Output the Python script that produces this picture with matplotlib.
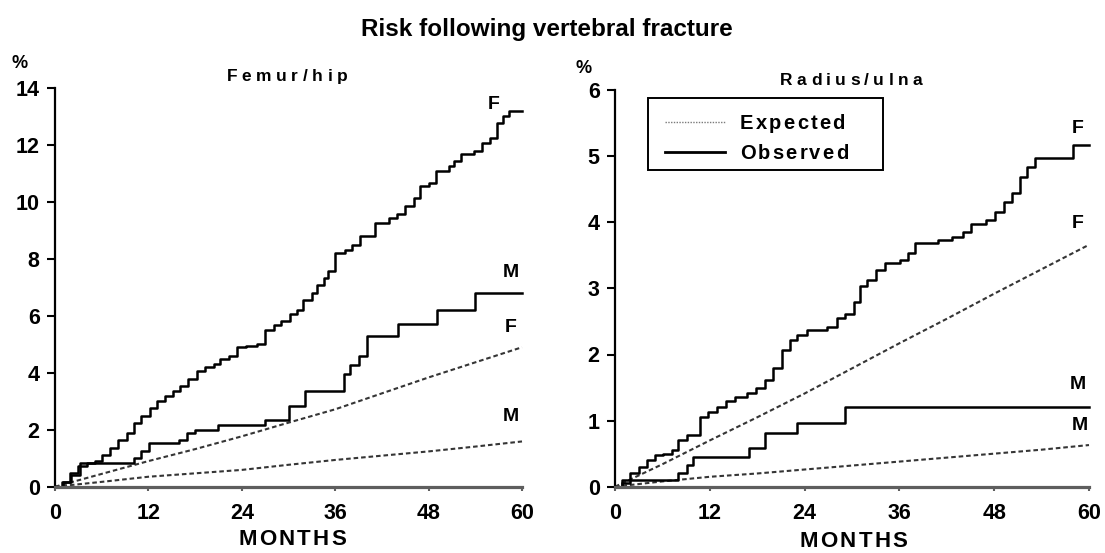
import matplotlib
matplotlib.use('Agg')
import matplotlib.pyplot as plt
from matplotlib.font_manager import FontProperties, findfont
from matplotlib.ft2font import FT2Font
from matplotlib.patches import Rectangle
from matplotlib.lines import Line2D

# ---------------- data ----------------
exp_months = [0, 6, 12, 18, 24, 30, 36, 42, 48, 54, 60]

hip_F_exp = [0, 0.45, 0.90, 1.32, 1.77, 2.25, 2.72, 3.28, 3.84, 4.37, 4.90]
hip_M_exp = [0, 0.17, 0.35, 0.47, 0.59, 0.77, 0.94, 1.09, 1.24, 1.41, 1.59]

hip_F_obs_m = [0, 0.9, 1.9, 3.0, 4.1, 5.1, 6.0, 7.1, 8.1, 9.2, 10.1, 11.1, 12.2, 13.1,
               14.1, 15.2, 16.1, 17.1, 18.2, 19.3, 20.4, 21.2, 22.3, 23.4, 24.6, 25.9,
               27.0, 28.1, 29.1, 30.2, 31.1, 31.9, 33.0, 33.6, 34.5, 35.1, 36.0, 37.3,
               38.1, 39.2, 41.1, 42.9, 43.9, 45.0, 46.1, 46.9, 48.0, 48.9, 50.6, 51.2,
               52.1, 53.8, 54.9, 55.9, 56.8, 57.6, 58.3, 60]
hip_F_obs_v = [0, 0.18, 0.47, 0.71, 0.83, 0.89, 1.12, 1.36, 1.65, 1.89, 2.24, 2.48, 2.77, 3.01,
               3.19, 3.36, 3.54, 3.78, 4.07, 4.19, 4.31, 4.49, 4.60, 4.90, 4.96, 5.02,
               5.49, 5.67, 5.84, 6.08, 6.20, 6.55, 6.79, 7.08, 7.32, 7.57, 8.21, 8.33,
               8.51, 8.80, 9.27, 9.45, 9.57, 9.86, 10.15, 10.56, 10.68, 11.09, 11.27, 11.44,
               11.68, 11.80, 12.09, 12.27, 12.79, 13.03, 13.20, 13.20]

hip_M_obs_m = [0, 1.0, 2.0, 3.2, 10.1, 11.0, 12.1, 15.9, 16.9, 18.0, 21.0, 27.0, 30.0,
               32.1, 37.1, 37.9, 39.0, 40.1, 44.1, 49.1, 54.0, 60]
hip_M_obs_v = [0, 0.15, 0.40, 0.83, 1.00, 1.24, 1.53, 1.65, 1.89, 2.00, 2.18, 2.36, 2.83,
               3.36, 3.95, 4.27, 4.60, 5.28, 5.70, 6.22, 6.79, 6.79]

rad_F_exp = [0, 0.34, 0.70, 1.05, 1.41, 1.79, 2.17, 2.54, 2.92, 3.29, 3.66]
rad_M_exp = [0, 0.08, 0.15, 0.20, 0.26, 0.32, 0.38, 0.44, 0.50, 0.56, 0.63]

rad_F_obs_m = [0, 0.84, 1.9, 3.0, 4.0, 5.1, 6.1, 7.2, 8.0, 9.1, 10.8, 11.8, 12.9, 14.1,
               15.2, 16.7, 17.9, 19.0, 20.0, 21.1, 22.2, 23.0, 24.3, 26.8, 28.1, 29.1,
               30.2, 31.0, 31.9, 33.1, 34.2, 36.1, 37.1, 38.0, 40.9, 42.6, 44.1, 45.1,
               47.0, 48.1, 49.2, 50.2, 51.3, 52.1, 53.2, 58.0, 60]
rad_F_obs_v = [0, 0.10, 0.20, 0.30, 0.40, 0.48, 0.50, 0.55, 0.71, 0.78, 1.06, 1.13, 1.21, 1.29,
               1.36, 1.41, 1.49, 1.61, 1.79, 2.07, 2.22, 2.29, 2.37, 2.42, 2.55, 2.62,
               2.80, 3.03, 3.13, 3.28, 3.38, 3.43, 3.53, 3.68, 3.73, 3.78, 3.86, 3.98,
               4.03, 4.16, 4.31, 4.44, 4.69, 4.84, 4.97, 5.17, 5.17]

rad_M_obs_m = [0, 0.9, 1.9, 8.0, 9.1, 9.9, 16.9, 19.0, 23.0, 29.1, 60]
rad_M_obs_v = [0, 0.05, 0.10, 0.20, 0.33, 0.45, 0.58, 0.81, 0.96, 1.21, 1.21]

x_ticks = [0, 12, 24, 36, 48, 60]
hip_y_ticks = [0, 2, 4, 6, 8, 10, 12, 14]
rad_y_ticks = [0, 1, 2, 3, 4, 5, 6]

title = "Risk following vertebral fracture"
panel_titles = ["Femur/hip", "Radius/ulna"]
legend_labels = ["Expected", "Observed"]
x_label = "MONTHS"

# ---------------- figure ----------------
W, H, DPI = 1105, 553, 100
FAM = 'Liberation Sans'
plt.rcParams['font.family'] = [FAM, 'DejaVu Sans']
plt.rcParams['font.weight'] = 'bold'

fig = plt.figure(figsize=(W / DPI, H / DPI), dpi=DPI)
fig.patch.set_facecolor('white')

font_path = findfont(FontProperties(family=FAM, weight='bold'))


def advances(s, size):
    f = FT2Font(font_path)
    f.set_size(size, DPI)
    out = []
    for ch in s:
        g = f.load_char(ord(ch))
        out.append(g.linearHoriAdvance / 65536.0)
    return out


def spaced_text(s, cx, base_y, size, track):
    adv = advances(s, size)
    total = sum(adv) + track * (len(s) - 1)
    x = cx - total / 2.0
    for ch, a in zip(s, adv):
        fig.text(x / W, 1 - base_y / H, ch, fontsize=size, fontweight='bold',
                 ha='left', va='baseline')
        x += a + track


def left_text(s, x0, base_y, size, track):
    adv = advances(s, size)
    x = x0
    for ch, a in zip(s, adv):
        fig.text(x / W, 1 - base_y / H, ch, fontsize=size, fontweight='bold',
                 ha='left', va='baseline')
        x += a + track


def px_axes(x0, x1, ytop, ybot):
    return fig.add_axes([x0 / W, 1 - ybot / H, (x1 - x0) / W, (ybot - ytop) / H])


ax1 = px_axes(55, 522, 88.3, 486.7)
ax2 = px_axes(615, 1089, 90.1, 486.7)

EXP_STYLE = dict(color='#353535', lw=1.5, ls=(0, (2.2, 1.4)), clip_on=False)
OBS_STYLE = dict(color='black', lw=1.8, clip_on=False)

for ax, yt, ymax in [(ax1, hip_y_ticks, 14), (ax2, rad_y_ticks, 6)]:
    ax.set_xlim(0, 60)
    ax.set_ylim(0, ymax)
    ax.set_xticks(x_ticks)
    ax.set_yticks(yt)
    ax.spines['top'].set_visible(False)
    ax.spines['right'].set_visible(False)
    ax.spines['left'].set_linewidth(1.6)
    ax.spines['bottom'].set_linewidth(2.3)
    ax.spines['bottom'].set_color('#5e5e5e')
    ax.tick_params(axis='y', direction='out', length=6, width=1.5, pad=5,
                   labelsize=15.5)
    ax.tick_params(axis='x', direction='out', length=3, width=1.5, pad=9,
                   labelsize=15.5, color='#5e5e5e')
    for lab in ax.get_xticklabels() + ax.get_yticklabels():
        lab.set_fontweight('bold')
    ax.set_facecolor('none')

# left panel
ax1.plot(exp_months, hip_F_exp, **EXP_STYLE)
ax1.plot(exp_months, hip_M_exp, **EXP_STYLE)
ax1.step(hip_F_obs_m, hip_F_obs_v, where='post', **OBS_STYLE)
ax1.step(hip_M_obs_m, hip_M_obs_v, where='post', **OBS_STYLE)
lab_kw = dict(fontsize=14, fontweight='bold', ha='center', va='center', clip_on=False)
ax1.text(56.3, 13.44, "F", **lab_kw)
ax1.text(58.5, 7.51, "M", **lab_kw)
ax1.text(58.5, 5.58, "F", **lab_kw)
ax1.text(58.5, 2.47, "M", **lab_kw)

# right panel
ax2.plot(exp_months, rad_F_exp, **EXP_STYLE)
ax2.plot(exp_months, rad_M_exp, **EXP_STYLE)
ax2.step(rad_F_obs_m, rad_F_obs_v, where='post', **OBS_STYLE)
ax2.step(rad_M_obs_m, rad_M_obs_v, where='post', **OBS_STYLE)
ax2.text(58.6, 5.42, "F", **lab_kw)
ax2.text(58.6, 3.98, "F", **lab_kw)
ax2.text(58.6, 1.54, "M", **lab_kw)
ax2.text(58.8, 0.93, "M", **lab_kw)

# legend (drawn in figure pixels)
fig.add_artist(Rectangle((648 / W, 1 - 170 / H), 235 / W, 72 / H, transform=fig.transFigure,
                         fill=False, edgecolor='black', lw=1.4))
fig.add_artist(Line2D([665 / W, 725 / W], [1 - 121.7 / H] * 2, transform=fig.transFigure,
                      color='#7a7a7a', lw=1.0, ls=(0, (1, 1))))
fig.add_artist(Line2D([665 / W, 725 / W], [1 - 151.7 / H] * 2, transform=fig.transFigure,
                      color='black', lw=2.0))
left_text(legend_labels[0], 740, 129, 14.5, 2.2)
left_text(legend_labels[1], 740, 159, 14.5, 2.2)

# titles
fig.text(547 / W, 1 - 35.7 / H, title, fontsize=17.5, fontweight='bold',
         ha='center', va='baseline')
spaced_text(panel_titles[0], 287, 81, 12.5, 4.6)
spaced_text(panel_titles[1], 851, 85, 12.5, 4.4)
spaced_text(x_label, 292, 545, 16, 2.3)
spaced_text(x_label, 853.5, 547, 16, 2.3)

# % units
fig.text(19.5 / W, 1 - 68 / H, "%", fontsize=13, fontweight='bold', ha='center', va='baseline')
fig.text(584 / W, 1 - 73 / H, "%", fontsize=13, fontweight='bold', ha='center', va='baseline')

fig.savefig('out.png', dpi=DPI, facecolor='white')
